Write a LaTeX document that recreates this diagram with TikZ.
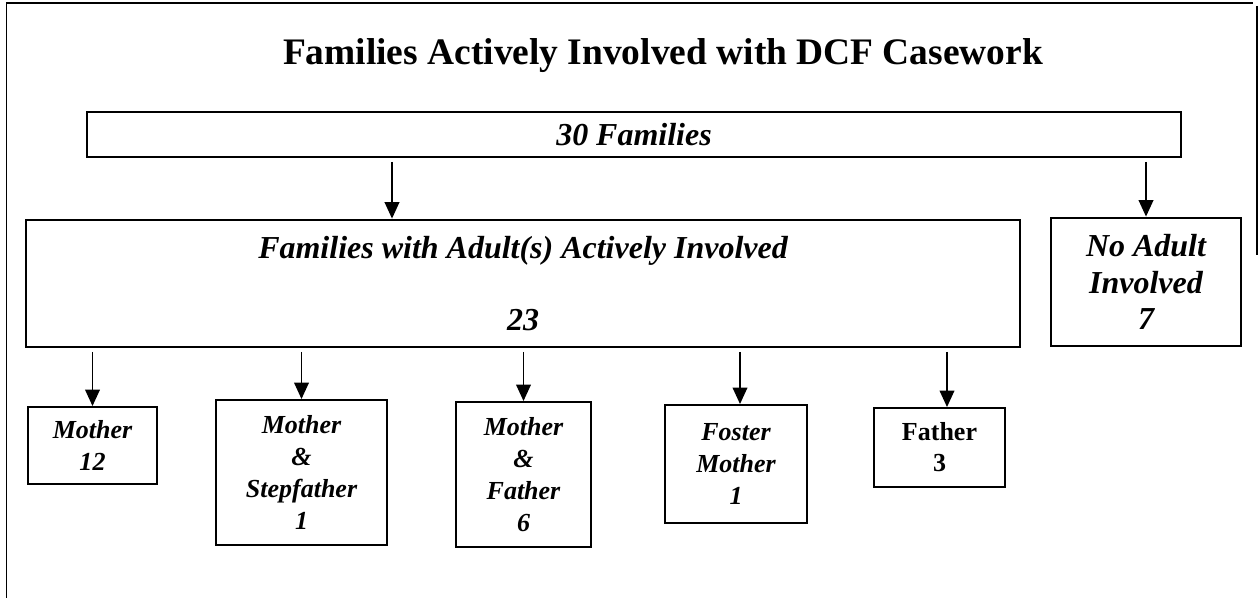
\documentclass[tikz,border=0pt]{standalone}
\usepackage{fontspec}
\setmainfont{Liberation Serif}
\usepackage{xcolor}
\usepackage{tikz}
\usetikzlibrary{arrows.meta,positioning,shapes,calc}

\begin{document}
\begin{tikzpicture}[
    topbox/.style={rectangle, draw, line width=1.6pt, align=center, inner sep=0pt, font=\fontsize{18.2}{21}\selectfont\bfseries\itshape},
    subbox/.style={rectangle, draw, line width=1.1pt, align=center, inner sep=0pt, font=\fontsize{14.8}{18.2}\selectfont\bfseries\itshape},
    link/.style={-{Triangle[width=8.4pt,length=9.4pt]}, line width=0.9pt, shorten <=2pt},
    frame/.style={line width=0.8pt}
]
    \useasboundingbox (0,0) rectangle (25.18,11.96);

    % Frame and title
    \draw[frame] (0.13,0) -- (0.13,11.9) -- (25.06,11.9);
    \draw[frame] (25.14,11.84) -- (25.14,6.86);
    \node[anchor=base, font=\fontsize{21.3}{25}\selectfont\bfseries] (title) at (13.26,10.66) {Families Actively Involved with DCF Casework};

    % Top levels
    \node[topbox, minimum width=21.88cm, minimum height=0.9cm] (fam) at (12.68,9.27) {30 Families};
    \node[topbox, minimum width=19.88cm, minimum height=2.54cm] (adult) at (10.46,6.29) {Families with Adult(s) Actively Involved\\[20pt]23};
    \node[topbox, minimum width=3.8cm, minimum height=2.56cm] (noadult) at (22.92,6.32) {No Adult\\Involved\\7};
    \coordinate (split) at (7.84,0);

    % Adults involved
    \node[subbox, minimum width=2.58cm, minimum height=1.54cm] (mother) at (1.85,3.05) {Mother\\12};
    \node[subbox, minimum width=3.42cm, minimum height=2.9cm] (stepf) at (6.03,2.51) {Mother\\\&\\Stepfather\\1};
    \node[subbox, minimum width=2.7cm, minimum height=2.9cm] (both) at (10.47,2.47) {Mother\\\&\\Father\\6};
    \node[subbox, minimum width=2.84cm, minimum height=2.36cm] (foster) at (14.72,2.68) {Foster\\Mother\\1};
    \node[subbox, font=\fontsize{14.8}{17.6}\selectfont\bfseries, minimum width=2.62cm, minimum height=1.58cm] (father) at (18.79,3.01) {Father\\3};

    % Links
    \draw[link] (fam.south -| split) -- (adult.north -| split);
    \draw[link] (fam.south -| noadult.north) -- (noadult.north);
    \draw[link] (adult.south -| mother.north) -- (mother.north);
    \draw[link] (adult.south -| stepf.north) -- (stepf.north);
    \draw[link] (adult.south -| both.north) -- (both.north);
    \draw[link] ($(adult.south -| foster.north)+(0.08,0)$) -- ($(foster.north)+(0.08,0)$);
    \draw[link] ($(adult.south -| father.north)+(0.15,0)$) -- ($(father.north)+(0.15,0)$);
\end{tikzpicture}
\end{document}
